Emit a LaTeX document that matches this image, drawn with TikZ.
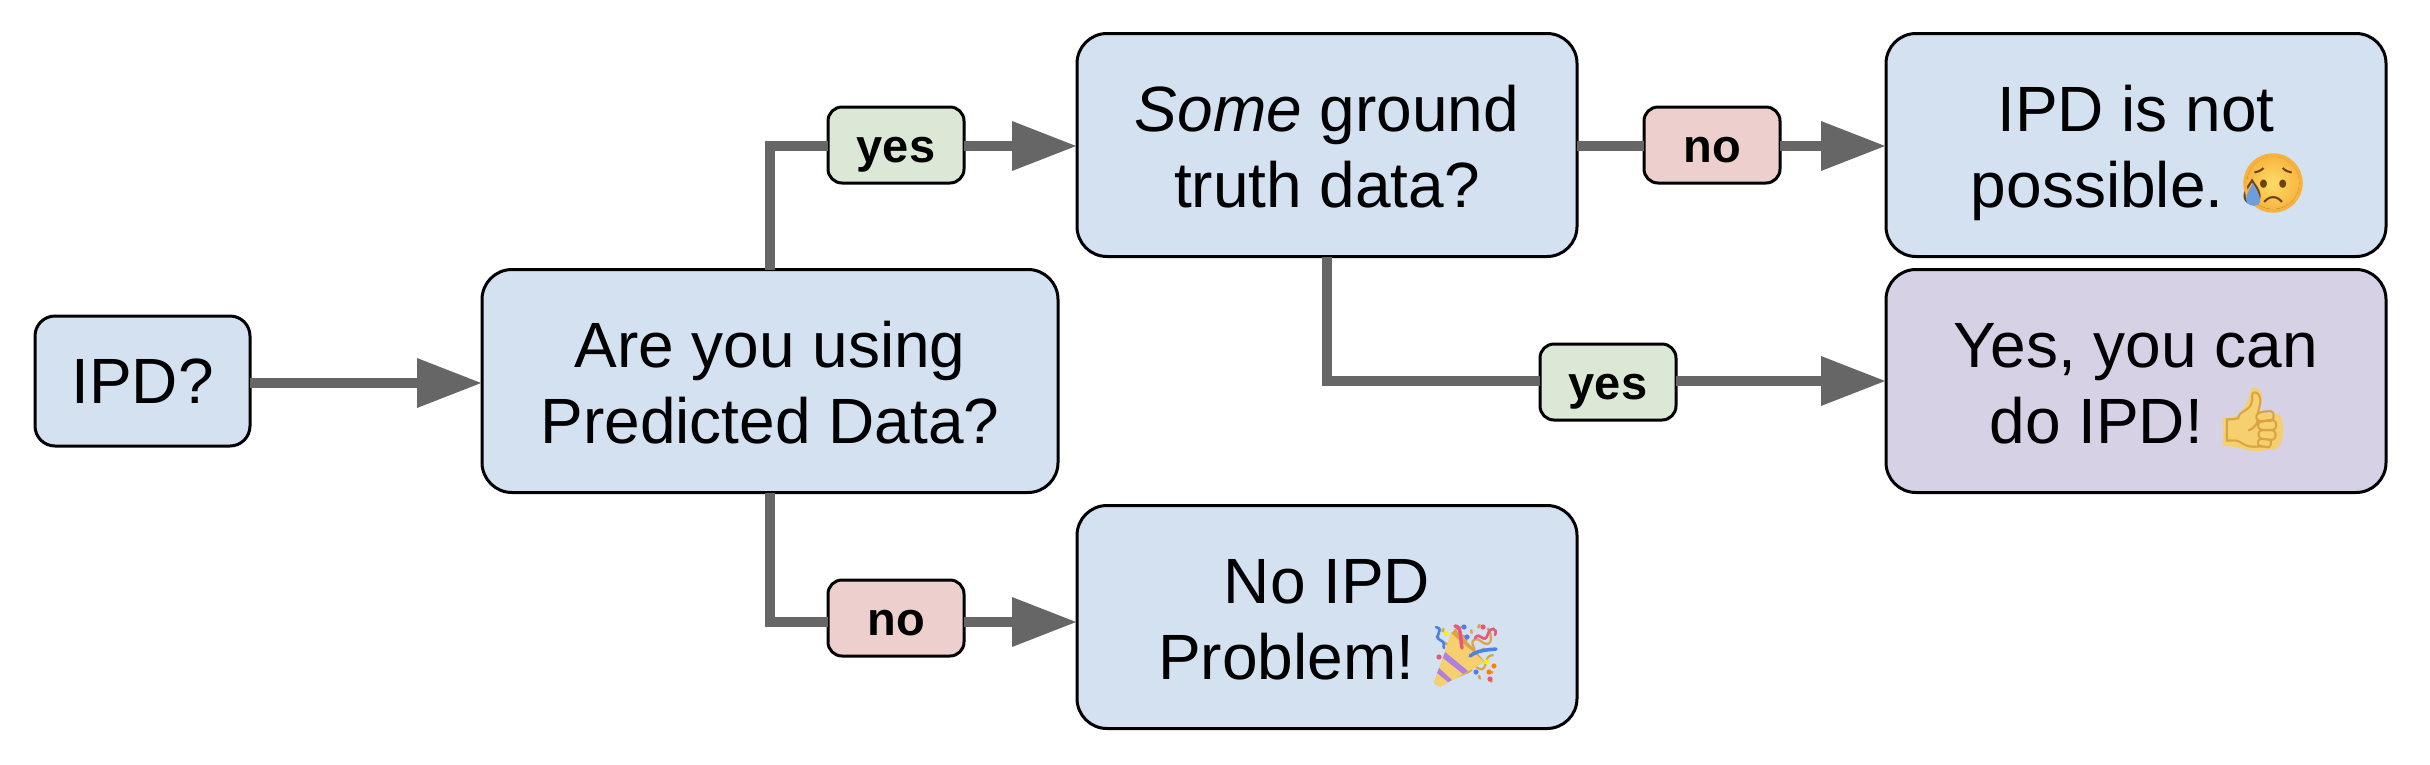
\documentclass[tikz,border=0pt]{standalone}
\usepackage{fontspec}
\setmainfont{Liberation Sans}
\newfontfamily\emojifont{Noto Emoji}
\usetikzlibrary{arrows.meta}
\definecolor{boxblue}{HTML}{D3E1F1}
\definecolor{boxpurple}{HTML}{D6D1E5}
\definecolor{tagyes}{HTML}{DCE8D6}
\definecolor{tagno}{HTML}{EDCFCE}
\definecolor{conn}{HTML}{666666}
\definecolor{gold}{HTML}{F6CF6E}
\definecolor{golddark}{HTML}{D9A441}
\definecolor{facein}{HTML}{FFDD67}
\definecolor{faceout}{HTML}{F7B23E}
\definecolor{facedark}{HTML}{6B4212}
\definecolor{ribblue}{HTML}{4F7FE8}
\definecolor{ribpink}{HTML}{E8557F}
\definecolor{ribpurple}{HTML}{B07FE0}
\newcommand{\firststrut}{\rule{0pt}{62pt}}
\newcommand{\laststrut}{\rule[-14pt]{0pt}{14pt}}
\newcommand{\tagstrut}{\rule[-10pt]{0pt}{54pt}}
\newcommand{\emojigap}[1]{\rule{#1}{0pt}}
\tikzset{
  box/.style={draw=black,line width=3pt,fill=boxblue,rounded corners=30pt,outer sep=0pt,inner sep=0pt,
    align=center,font=\fontsize{64}{76}\selectfont},
  bigbox/.style={box,minimum width=500pt,minimum height=223pt},
  tagbox/.style={draw=black,line width=3pt,rounded corners=14pt,outer sep=0pt,inner sep=0pt,
    minimum width=136pt,minimum height=76pt,font=\fontsize{47}{54}\selectfont\bfseries},
  yestag/.style={tagbox,fill=tagyes},
  notag/.style={tagbox,fill=tagno},
  link/.style={draw=conn,line width=10pt,line join=miter},
  arrowlink/.style={link,-{Triangle[length=65pt,width=47pt,fill=conn]}},
  emoji/.style={inner sep=0pt,outer sep=0pt,font=\emojifont\fontsize{56}{60}\selectfont},
  ribbon/.style={line width=2.6pt,line cap=round},
}
\begin{document}
\begin{tikzpicture}[x=1pt,y=-1pt]
\useasboundingbox (0,0) rectangle (2430,764);
% boxes
\node[box,minimum width=215pt,minimum height=130pt,rounded corners=20pt] (ipd) at (142.5,381) {IPD?};
\node[box,minimum width=576pt,minimum height=223pt] (are) at (770,381) {\firststrut Are you using\\Predicted Data?\laststrut};
\node[bigbox] (some) at (1327,145) {\firststrut \textit{Some} ground\\truth data?\laststrut};
\node[bigbox] (notpos) at (2136,145) {\firststrut IPD is not\\possible. \emojigap{54pt}\laststrut};
\node[bigbox,fill=boxpurple] (yescan) at (2136,381) {\firststrut Yes, you can\\do IPD! \emojigap{62pt}\laststrut};
\node[bigbox] (noprob) at (1327,617) {\firststrut No IPD\\Problem! \emojigap{58pt}\laststrut};
% labels
\node[yestag] (y1) at (896,145) {\tagstrut yes};
\node[notag] (n1) at (1712,145) {\tagstrut no};
\node[yestag] (y2) at (1608,382) {\tagstrut yes};
\node[notag] (n2) at (896,618) {\tagstrut no};
% connectors
\draw[arrowlink] ([yshift=-2pt]ipd.east) -- ([yshift=-2pt]are.west);
\draw[link] (are.north) |- ([yshift=-1pt]y1.west);
\draw[arrowlink] ([yshift=-1pt]y1.east) -- ([yshift=-1pt]some.west);
\draw[link] ([yshift=-1pt]some.east) -- ([yshift=-1pt]n1.west);
\draw[arrowlink] ([yshift=-1pt]n1.east) -- ([yshift=-1pt]notpos.west);
\draw[link] (some.south) |- ([yshift=1pt]y2.west);
\draw[arrowlink] ([yshift=1pt]y2.east) -- (yescan.west);
\draw[link] (are.south) |- ([yshift=-4pt]n2.west);
\draw[arrowlink] ([yshift=-4pt]n2.east) -- ([yshift=-5pt]noprob.west);
% crying face
\shade[inner color=facein,outer color=faceout] (2273,183) circle (29);
\node[emoji,text=facedark] (e1) at (2273,183) {\symbol{"1F625}};
\draw[faceout,line width=3.5pt] (2273,183) circle (28);
\fill[cyan!55!blue!60] (2253,183) .. controls (2248,192) and (2244,198) .. (2247,203) .. controls (2251,207) and (2258,207) .. (2260,202) .. controls (2261,197) and (2257,190) .. (2253,183) -- cycle;
% thumb
\fill[gold] (2223,418) -- (2238,416) .. controls (2246,406) and (2250,398) .. (2250,390)
  .. controls (2254,385) and (2263,388) .. (2262,400) -- (2259,413) -- (2278,414)
  .. controls (2285,416) and (2285,445) .. (2276,449) -- (2256,451) .. controls (2246,451) and (2240,446) .. (2223,446) -- cycle;
\node[emoji,text=golddark] (e2) at (2252,420) {\symbol{"1F44D}};
% party popper
\node[emoji,text=golddark,font=\emojifont\fontsize{60}{60}\selectfont] (e3) at (1465,655) {\symbol{"1F389}};
\fill[gold] (1434,683) -- (1451,633) -- (1485,662) -- (1440,687) -- cycle;
\fill[golddark] (1451,633) -- (1485,662) -- (1473,648) -- (1456,630) -- cycle;
\fill[ribpurple] (1445,652) -- (1468,671) -- (1463,674) -- (1443,658) -- cycle;
\fill[ribpurple] (1439,668) -- (1452,680) -- (1448,682) -- (1437,673) -- cycle;
\draw[ribbon,ribblue] (1436,627) .. controls (1446,630) and (1432,636) .. (1440,640) .. controls (1447,643) and (1442,646) .. (1444,648);
\draw[ribbon,ribpink,line width=3.5pt] (1455,626) .. controls (1462,626) and (1460,640) .. (1462,648);
\draw[ribbon,ribblue,line width=3.5pt] (1470,656) .. controls (1478,650) and (1486,650) .. (1496,649);
\draw[ribbon,ribpink] (1475,638) .. controls (1480,630) and (1484,646) .. (1488,634) .. controls (1490,626) and (1498,628) .. (1495,635);
\foreach \px/\py/\pc in {1446/633/yellow,1464/627/ribblue,1483/627/ribpink,1467/637/ribblue,1439/657/ribpink,1494/666/orange,1489/672/orange,1490/679/ribpink,1476/672/ribblue,1487/662/yellow}
  \fill[\pc] (\px,\py) circle (2.6);
\end{tikzpicture}
\end{document}
